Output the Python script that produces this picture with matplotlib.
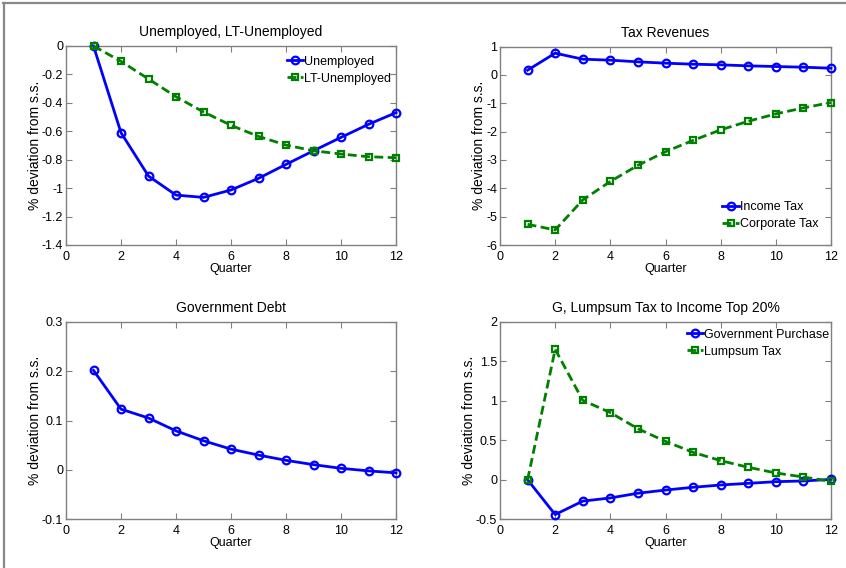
import matplotlib
matplotlib.use("Agg")
import matplotlib.pyplot as plt
from matplotlib.lines import Line2D

plt.rcParams['font.family'] = ['Liberation Sans', 'DejaVu Sans']

quarters = list(range(1, 13))

unemployed = [0, -0.61, -0.915, -1.049, -1.065, -1.013, -0.931, -0.833, -0.737, -0.643, -0.551, -0.469]
lt_unemployed = [0, -0.108, -0.232, -0.357, -0.464, -0.558, -0.636, -0.697, -0.737, -0.760, -0.779, -0.786]

income_tax = [0.165, 0.765, 0.553, 0.518, 0.459, 0.412, 0.376, 0.353, 0.318, 0.294, 0.27, 0.235]
corporate_tax = [-5.27, -5.47, -4.41, -3.76, -3.19, -2.71, -2.31, -1.94, -1.635, -1.376, -1.165, -0.976]

gov_debt = [0.2015, 0.123, 0.105, 0.079, 0.059, 0.042, 0.030, 0.0194, 0.0106, 0.0032, -0.002, -0.006]

gov_purchase = [0, -0.44, -0.27, -0.23, -0.17, -0.13, -0.095, -0.066, -0.045, -0.024, -0.015, 0.005]
lumpsum_tax = [0, 1.65, 1.005, 0.85, 0.646, 0.486, 0.347, 0.242, 0.158, 0.086, 0.035, -0.02]

titles = ["Unemployed, LT-Unemployed", "Tax Revenues", "Government Debt",
          "G, Lumpsum Tax to Income Top 20%"]
xticks = [0, 2, 4, 6, 8, 10, 12]
yticks1 = [0, -0.2, -0.4, -0.6, -0.8, -1, -1.2, -1.4]
yticks2 = [1, 0, -1, -2, -3, -4, -5, -6]
yticks3 = [0.3, 0.2, 0.1, 0, -0.1]
yticks4 = [2, 1.5, 1, 0.5, 0, -0.5]

BLUE = (0, 0, 1)
GREEN = (0, 0.5, 0)
SPINE = '#808080'
FS = 9
TFS = 10
YFS = 10

fig = plt.figure(figsize=(8.46, 5.68), dpi=100)
W, H = 846, 568

def make_ax(x0, ytop, x1, ybot):
    return fig.add_axes([x0 / W, 1 - ybot / H, (x1 - x0) / W, (ybot - ytop) / H])

ax1 = make_ax(66, 46, 396, 245)
ax2 = make_ax(500, 46.5, 831, 245)
ax3 = make_ax(66, 321.7, 396, 519.3)
ax4 = make_ax(500, 321.7, 831, 519.3)

def fmt(v):
    return '%g' % v

def style(ax, title, yticks, ylim):
    ax.set_xlim(0, 12)
    ax.set_ylim(*ylim)
    ax.set_xticks(xticks)
    ax.set_xticklabels([fmt(v) for v in xticks])
    ax.set_yticks(yticks)
    ax.set_yticklabels([fmt(v) for v in yticks])
    ax.tick_params(direction='in', top=True, right=True, length=4, width=0.8,
                   color=SPINE, labelsize=FS)
    ax.tick_params(axis='x', pad=4)
    ax.tick_params(axis='y', pad=2)
    for sp in ax.spines.values():
        sp.set_color(SPINE)
        sp.set_linewidth(1.0)
    ax.set_title(title, fontsize=TFS, pad=7)
    ax.set_xlabel("Quarter", fontsize=FS, labelpad=0)
    ax.set_ylabel("% deviation from s.s.", fontsize=YFS, labelpad=0)

def blue_line(ax, y, label=None):
    ax.plot(quarters, y, color=BLUE, lw=2, marker='o', ms=5.5, mfc='none',
            mew=1.6, label=label, clip_on=False, zorder=3)

def green_line(ax, y, label=None):
    ax.plot(quarters, y, color=GREEN, lw=2, ls=(0, (3.2, 1.6)), marker='s', ms=4.5,
            mfc='none', mew=1.6, label=label, clip_on=False, zorder=3)

LEG = dict(frameon=False, fontsize=FS, handlelength=1.3, handletextpad=0.1,
           labelspacing=0.4, borderaxespad=0.0)

blue_line(ax1, unemployed, "Unemployed")
green_line(ax1, lt_unemployed, "LT-Unemployed")
style(ax1, titles[0], yticks1, (-1.4, 0))
ax1.legend(loc='upper right', bbox_to_anchor=(1.0, 0.977), **LEG)

blue_line(ax2, income_tax, "Income Tax")
green_line(ax2, corporate_tax, "Corporate Tax")
style(ax2, titles[1], yticks2, (-6, 1))
ax2.legend(loc='lower right', bbox_to_anchor=(0.977, 0.05), **LEG)

blue_line(ax3, gov_debt)
style(ax3, titles[2], yticks3, (-0.1, 0.3))

blue_line(ax4, gov_purchase, "Government Purchase")
green_line(ax4, lumpsum_tax, "Lumpsum Tax")
style(ax4, titles[3], yticks4, (-0.5, 2))
ax4.legend(loc='upper right', bbox_to_anchor=(1.01, 0.99), **LEG)

# figure frame (top and left gray border)
fig.add_artist(Line2D([3 / W, 1], [1 - 2.5 / H, 1 - 2.5 / H], color='#888888', lw=1.6,
                      transform=fig.transFigure))
fig.add_artist(Line2D([3.5 / W, 3.5 / W], [0, 1 - 2.5 / H], color='#888888', lw=1.6,
                      transform=fig.transFigure))

fig.savefig("out.png", dpi=100)
